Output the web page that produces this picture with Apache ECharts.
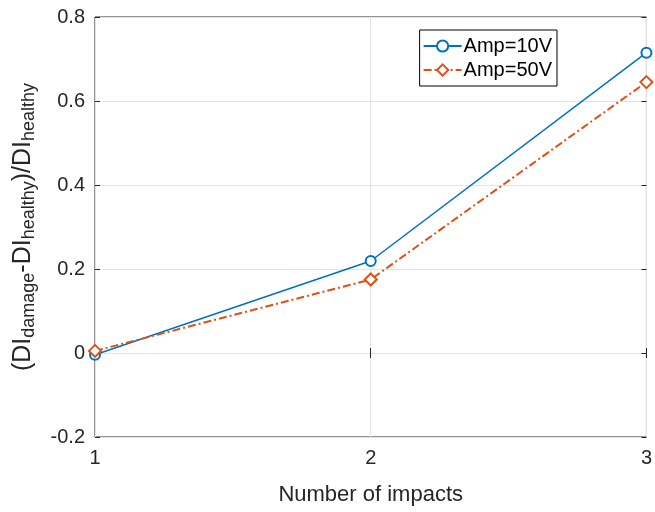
<!DOCTYPE html>
<html>
<head>
<meta charset="utf-8">
<script src="https://cdn.jsdelivr.net/npm/echarts@6/dist/echarts.min.js"></script>
<style>
  html, body { margin: 0; padding: 0; background: #fff; }
  #main { width: 655px; height: 512px; }
</style>
</head>
<body>
<div id="main"></div>
<script>
// 数据
var impacts = [1, 2, 3];
var amp10 = [-0.004, 0.219, 0.715];
var amp50 = [0.005, 0.175, 0.645];
var seriesNames = ['Amp=10V', 'Amp=50V'];

var chart = echarts.init(document.getElementById('main'), null, { renderer: 'canvas' });

function pairs(xs, ys) {
  return xs.map(function (x, i) { return [x, ys[i]]; });
}

var font = 'Liberation Sans, Arial, sans-serif';
var axisColor = '#262626';

var option = {
  animation: false,
  backgroundColor: '#fff',
  textStyle: { fontFamily: font },
  grid: {
    left: 95, right: 4, top: 17, bottom: 75,
    show: true,
    borderColor: axisColor,
    borderWidth: 1
  },
  legend: {
    orient: 'vertical',
    right: 98,
    top: 30,
    itemGap: 4,
    itemWidth: 38,
    itemHeight: 14,
    padding: [6, 5, 6, 3],
    borderColor: '#000',
    borderWidth: 1,
    backgroundColor: '#fff',
    textStyle: { fontSize: 20, color: '#000', fontFamily: font, padding: [0, 0, 0, -3] },
    data: seriesNames
  },
  xAxis: [{
    type: 'value',
    min: 1, max: 3, interval: 1,
    name: 'Number of impacts',
    nameLocation: 'middle',
    nameGap: 47,
    nameTextStyle: { fontSize: 22, color: axisColor },
    axisLine: { show: false },
    axisTick: { show: true, inside: true, length: 5, lineStyle: { color: axisColor } },
    axisLabel: { fontSize: 20, color: axisColor, margin: 11 },
    splitLine: { show: true, lineStyle: { color: '#e3e3e3' } }
  }, {
    type: 'value',
    position: 'top',
    min: 1, max: 3, interval: 1,
    axisLine: { show: false },
    axisTick: { show: true, inside: true, length: 5, lineStyle: { color: axisColor } },
    axisLabel: { show: false },
    splitLine: { show: false }
  }],
  yAxis: [{
    type: 'value',
    min: -0.2, max: 0.8, interval: 0.2,
    name: '(DI{sub|damage}-DI{sub|healthy})/DI{sub|healthy}',
    nameLocation: 'middle',
    nameGap: 57,
    nameTextStyle: {
      fontSize: 25, color: axisColor,
      rich: {
        sub: { fontSize: 18, color: axisColor, padding: [12, 0, 0, 0], fontFamily: font }
      }
    },
    axisLine: { show: false },
    axisTick: { show: true, inside: true, length: 5, lineStyle: { color: axisColor } },
    axisLabel: {
      fontSize: 20, color: axisColor, margin: 10,
      formatter: function (v) {
        var r = Math.round(v * 10) / 10;
        return r === 0 ? '0' : String(r);
      }
    },
    splitLine: { show: true, lineStyle: { color: '#e3e3e3' } }
  }, {
    type: 'value',
    position: 'right',
    min: -0.2, max: 0.8, interval: 0.2,
    axisLine: { show: false },
    axisTick: { show: true, inside: true, length: 5, lineStyle: { color: axisColor } },
    axisLabel: { show: false },
    splitLine: { show: false }
  }],
  series: [{
    name: seriesNames[0],
    type: 'line',
    data: pairs(impacts, amp10),
    symbol: 'emptyCircle',
    symbolSize: 10,
    color: '#0072BD',
    lineStyle: { width: 1.5, color: '#0072BD' },
    itemStyle: { color: '#0072BD', borderWidth: 1.5 }
  }, {
    name: seriesNames[1],
    type: 'line',
    data: pairs(impacts, amp50),
    symbol: 'emptyDiamond',
    symbolSize: 12,
    color: '#D95319',
    lineStyle: { width: 2, color: '#D95319', type: [8, 3, 2, 3] },
    itemStyle: { color: '#D95319', borderWidth: 2 }
  }]
};

chart.setOption(option);
</script>
</body>
</html>
